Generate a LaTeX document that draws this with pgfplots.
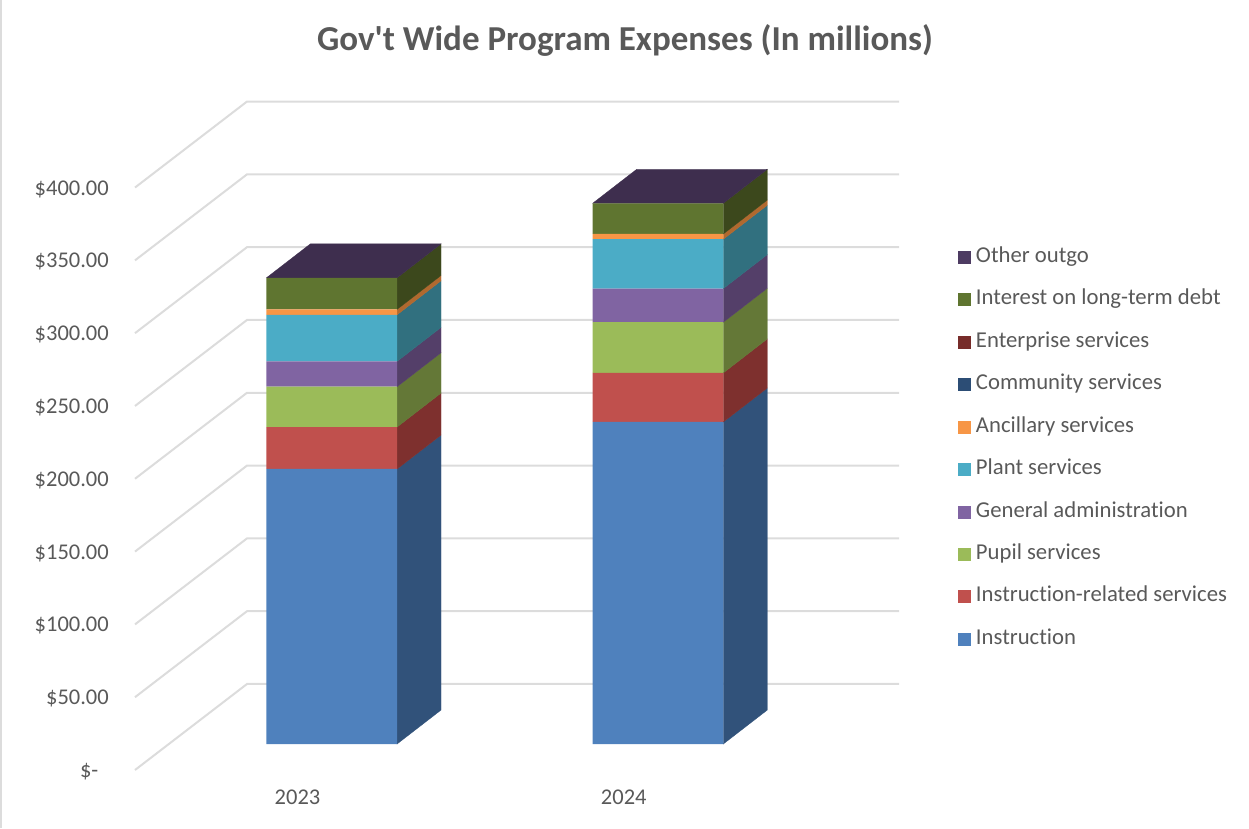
\documentclass[border=0pt]{standalone}
\usepackage{fontspec}
\setmainfont[Ligatures=NoCommon]{Carlito}
\newfontfamily\titlefont[Ligatures=NoCommon]{Carlito}
\usepackage{pgfplots}
\usepackage{pgfplotstable}
\pgfplotsset{compat=1.18}

% Front-face colours
\definecolor{cInstr}{HTML}{4F81BD}
\definecolor{cRelat}{HTML}{C0504D}
\definecolor{cPupil}{HTML}{9BBB59}
\definecolor{cAdmin}{HTML}{8064A2}
\definecolor{cPlant}{HTML}{4BACC6}
\definecolor{cAncil}{HTML}{F79646}
\definecolor{cCommu}{HTML}{2C4D75}
\definecolor{cEnter}{HTML}{772C2A}
\definecolor{cInter}{HTML}{5F7530}
\definecolor{cOther}{HTML}{4D3B62}
% Shaded side and top faces
\definecolor{sInstr}{HTML}{31527A}
\definecolor{sRelat}{HTML}{7E302E}
\definecolor{sPupil}{HTML}{647837}
\definecolor{sAdmin}{HTML}{543F69}
\definecolor{sPlant}{HTML}{31707F}
\definecolor{sAncil}{HTML}{B0692F}
\definecolor{sInter}{HTML}{3C481C}
\definecolor{sOther}{HTML}{3E2E4E}
\definecolor{gridc}{HTML}{DCDCDC}
\definecolor{textc}{HTML}{595959}

% Expenses in millions of dollars, one row per year
\pgfplotstableread{
pos Instruction Related Pupil Admin Plant Ancillary Community Enterprise Interest Other
0   188.9       28.8    27.7  17.4  32.0  3.7       0.0       0.0        21.7     0.0
1   221.2       33.7    34.8  23.1  33.9  3.6       0.0       0.0        21.1     0.0
}\expenses

% Depth of the bars, in axis units
\def\halfw{0.2002}
\def\depthx{0.1349}
\def\depthy{23.35}

% Side face: colour, bar position, lower total, upper total
\newcommand{\sideface}[4]{%
  \pgfmathsetmacro\xa{#2+\halfw}%
  \pgfmathsetmacro\xb{#2+\halfw+\depthx}%
  \pgfmathsetmacro\ya{#3+\depthy}%
  \pgfmathsetmacro\yb{#4+\depthy}%
  \edef\temp{\noexpand\addplot[fill=#1,draw=#1,line width=0.3pt,forget plot]
    coordinates {(\xa,#3) (\xb,\ya) (\xb,\yb) (\xa,#4)} --cycle;}\temp}

% Top face: colour, bar position, total
\newcommand{\topface}[3]{%
  \pgfmathsetmacro\xa{#2-\halfw}%
  \pgfmathsetmacro\xb{#2+\halfw}%
  \pgfmathsetmacro\xc{#2+\halfw+\depthx}%
  \pgfmathsetmacro\xd{#2-\halfw+\depthx}%
  \pgfmathsetmacro\ya{#3+\depthy}%
  \edef\temp{\noexpand\addplot[fill=#1,draw=#1,line width=0.3pt,forget plot]
    coordinates {(\xa,#3) (\xb,#3) (\xc,\ya) (\xd,\ya)} --cycle;}\temp}

% Floor-to-back-wall gridline at one dollar level
\newcommand{\wallline}[1]{%
  \pgfmathsetmacro\yb{#1+59.07}%
  \edef\temp{\noexpand\addplot[gridc,line width=2pt,forget plot]
    coordinates {(-0.4981,#1) (-0.1548,\yb) (1.8437,\yb)};}\temp}

\begin{document}
\begin{tikzpicture}
\useasboundingbox (0,0) rectangle (1249pt,828pt);
\draw[gridc,line width=2.4pt] (1pt,0) -- (1pt,828pt);

% Walls, value labels and year labels
\begin{axis}[
  at={(135pt,58pt)}, anchor=south west, scale only axis,
  width=764pt, height=668.5pt,
  xmin=-0.4981, xmax=1.8437, ymin=0, ymax=459.1,
  axis line style={draw=none}, major tick length=0pt,
  xtick={0,1}, xticklabels={2023,2024},
  ytick={0,50,100,150,200,250,300,350,400},
  yticklabels={\$-\rule{10.5pt}{0pt},\$50.00,\$100.00,\$150.00,\$200.00,\$250.00,\$300.00,\$350.00,\$400.00},
  xticklabel style={anchor=center,inner sep=0pt,yshift=-27pt,text=textc,font=\fontsize{22.5}{25}\selectfont},
  yticklabel style={anchor=east,inner sep=0pt,xshift=-26pt,yshift=-1.5pt,text=textc,font=\fontsize{22.5}{25}\selectfont},
  title={Gov't Wide Program Expenses (In millions)},
  title style={at={(0.6414,1.083)},anchor=center,inner sep=0pt,text=textc,font=\titlefont\fontsize{35}{38}\selectfont\bfseries},
  clip=false,
]
\wallline{0}\wallline{50}\wallline{100}\wallline{150}\wallline{200}
\wallline{250}\wallline{300}\wallline{350}\wallline{400}
\end{axis}

% Side and top faces of the bars
\begin{axis}[
  at={(135pt,84pt)}, anchor=south west, scale only axis,
  width=764pt, height=642.5pt,
  xmin=-0.6031, xmax=1.7387, ymin=0, ymax=441.3,
  hide axis, clip=false,
]
\sideface{sInstr}{0}{0}{188.9}
\sideface{sRelat}{0}{188.9}{217.7}
\sideface{sPupil}{0}{217.7}{245.4}
\sideface{sAdmin}{0}{245.4}{262.8}
\sideface{sPlant}{0}{262.8}{294.8}
\sideface{sAncil}{0}{294.8}{298.5}
\sideface{sInter}{0}{298.5}{320.2}
\topface{sOther}{0}{320.2}
\sideface{sInstr}{1}{0}{221.2}
\sideface{sRelat}{1}{221.2}{254.9}
\sideface{sPupil}{1}{254.9}{289.7}
\sideface{sAdmin}{1}{289.7}{312.8}
\sideface{sPlant}{1}{312.8}{346.7}
\sideface{sAncil}{1}{346.7}{350.3}
\sideface{sInter}{1}{350.3}{371.4}
\topface{sOther}{1}{371.4}
\end{axis}

% Front faces of the stacked bars, with the legend
\begin{axis}[
  at={(135pt,84pt)}, anchor=south west, scale only axis,
  width=764pt, height=642.5pt,
  xmin=-0.6031, xmax=1.7387, ymin=0, ymax=441.3,
  hide axis, clip=false,
  ybar stacked, bar width=130.6pt,
  legend image code/.code={\fill[#1] (0pt,-6.5pt) rectangle (13pt,6.5pt);\path (18pt,0pt);},
  reverse legend,
  legend cell align=left,
  legend style={
    at={(1.0772,0.7728)}, anchor=north west, draw=none, fill=none,
    inner sep=0pt, outer sep=0pt, row sep=22.44pt, column sep=0pt,
    font=\fontsize{22.7}{25}\selectfont,
    nodes={inner sep=0pt,text height=15pt,text depth=5pt,text=textc,anchor=west,xshift=3pt},
  },
]
\addplot[fill=cInstr,draw=none] table[x=pos,y=Instruction]{\expenses};
\addplot[fill=cRelat,draw=none] table[x=pos,y=Related]{\expenses};
\addplot[fill=cPupil,draw=none] table[x=pos,y=Pupil]{\expenses};
\addplot[fill=cAdmin,draw=none] table[x=pos,y=Admin]{\expenses};
\addplot[fill=cPlant,draw=none] table[x=pos,y=Plant]{\expenses};
\addplot[fill=cAncil,draw=none] table[x=pos,y=Ancillary]{\expenses};
\addplot[fill=cCommu,draw=none] table[x=pos,y=Community]{\expenses};
\addplot[fill=cEnter,draw=none] table[x=pos,y=Enterprise]{\expenses};
\addplot[fill=cInter,draw=none] table[x=pos,y=Interest]{\expenses};
\addplot[fill=cOther,draw=none] table[x=pos,y=Other]{\expenses};
\legend{Instruction,Instruction-related services,Pupil services,General administration,Plant services,Ancillary services,Community services,Enterprise services,Interest on long-term debt,Other outgo}
\end{axis}
\end{tikzpicture}
\end{document}
